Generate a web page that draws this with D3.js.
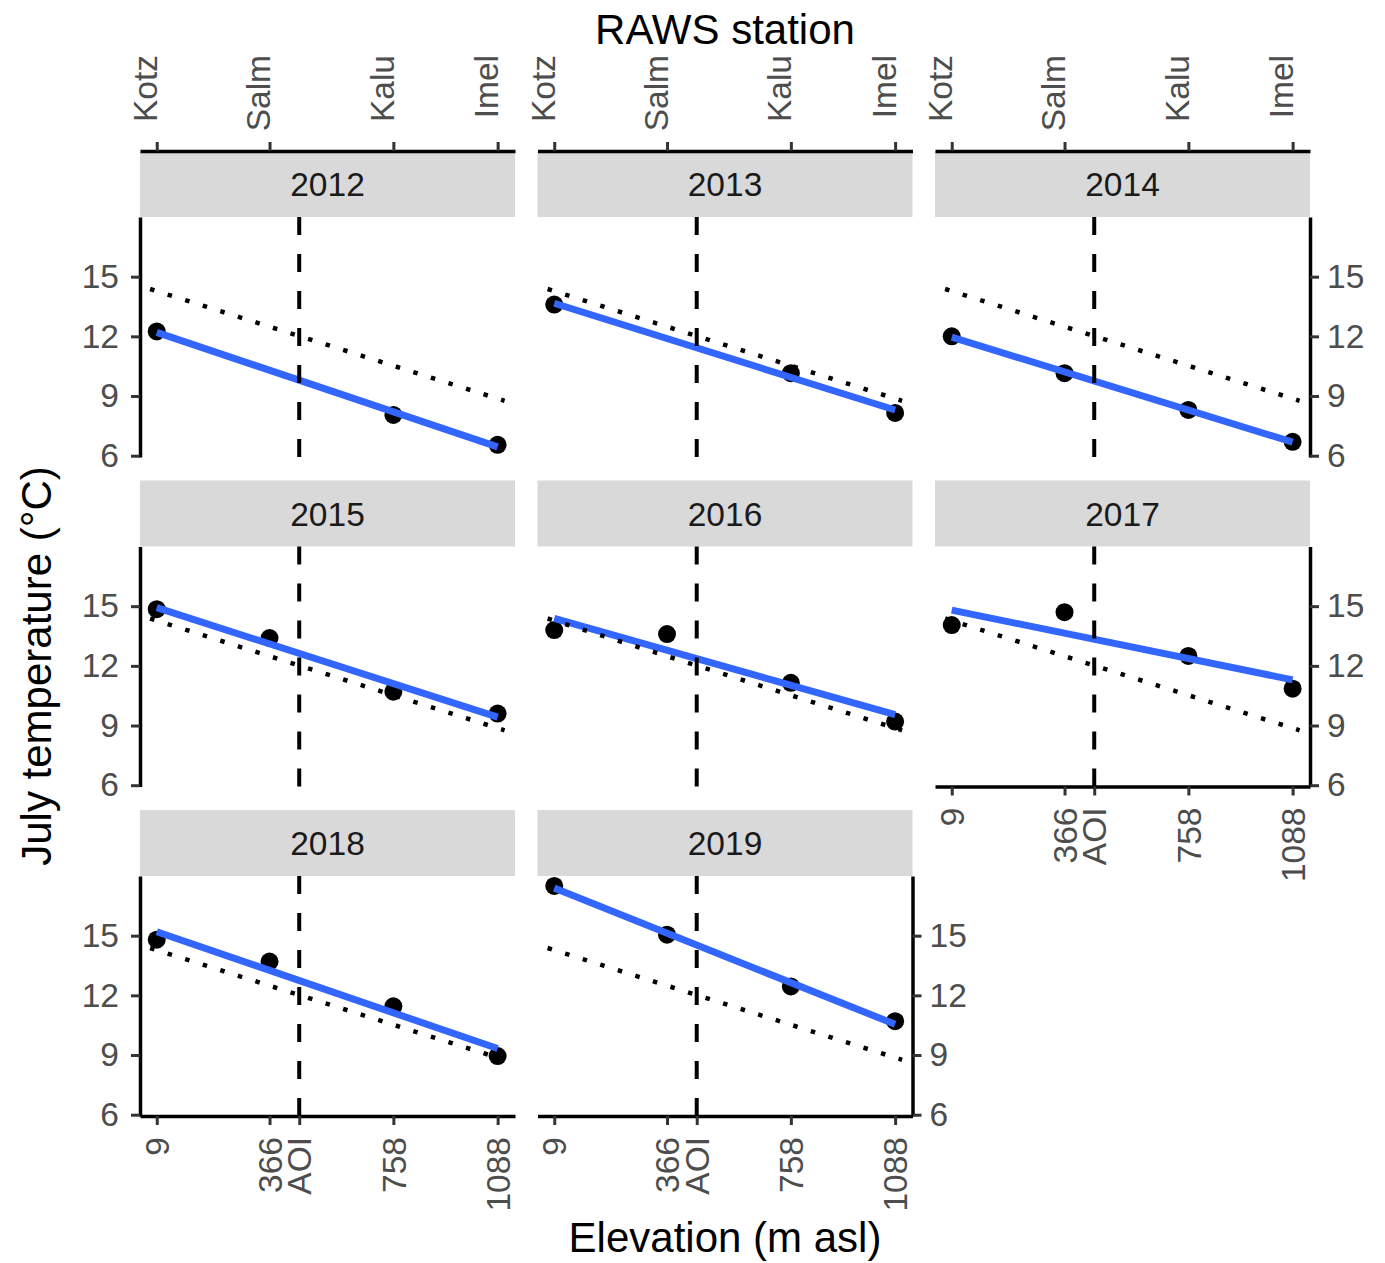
<!DOCTYPE html>
<html>
<head>
<meta charset="utf-8">
<script src="https://cdn.jsdelivr.net/npm/d3@7"></script>
<style>
  body { margin: 0; background: #fff; }
  svg { font-family: "Liberation Sans", Arial, Helvetica, sans-serif; }
</style>
</head>
<body>
<div id="chart"></div>
<script>
// stations along the elevation gradient
var stations = ["Kotz", "Salm", "Kalu", "Imel"];
var elevation = [9, 366, 758, 1088];
var aoiElev = 460;

var years = ["2012", "2013", "2014", "2015", "2016", "2017", "2018", "2019"];

// mean July temperature per station (null = no data)
var temp2012 = [12.25, null, 8.05, 6.55];
var temp2013 = [13.6, null, 10.15, 8.15];
var temp2014 = [12.0, 10.15, 8.3, 6.7];
var temp2015 = [14.85, 13.4, 10.7, 9.6];
var temp2016 = [13.8, 13.6, 11.15, 9.2];
var temp2017 = [14.05, 14.7, 12.5, 10.85];
var temp2018 = [14.8, 13.7, 11.45, 8.95];
var temp2019 = [17.5, 15.05, 12.45, 10.7];
var temps = [temp2012, temp2013, temp2014, temp2015, temp2016, temp2017, temp2018, temp2019];

// reference lapse-rate line (dotted)
var refElev = [-12, 1110];
var refTemp = [14.38, 8.76];

var tempTicks = [6, 9, 12, 15];
var bottomTicks = [9, 366, aoiElev, 758, 1088];
var bottomLabels = ["9", "366", "AOI", "758", "1088"];

var width = 1385, height = 1263;
var panelW = 375, plotH = 240, stripH = 66;
var colX = [140, 537.5, 935];
var rowY = [151, 480.5, 810];

var svg = d3.select("#chart").append("svg")
    .attr("width", width)
    .attr("height", height);

svg.append("rect").attr("width", width).attr("height", height).attr("fill", "#fff");

var x = d3.scaleLinear().domain([-44, 1143]).range([0, panelW]);
var y = d3.scaleLinear().domain([5.935, 18.0]).range([plotH, 0]);

var line = d3.line().x(function(d) { return x(d[0]); }).y(function(d) { return y(d[1]); });

function linfit(xs, ys) {
  var pts = xs.map(function(v, i) { return [v, ys[i]]; }).filter(function(d) { return d[1] != null; });
  var mx = d3.mean(pts, function(d) { return d[0]; }),
      my = d3.mean(pts, function(d) { return d[1]; });
  var sxy = d3.sum(pts, function(d) { return (d[0] - mx) * (d[1] - my); }),
      sxx = d3.sum(pts, function(d) { return (d[0] - mx) * (d[0] - mx); });
  var b = sxy / sxx, a = my - b * mx;
  var lo = d3.min(pts, function(d) { return d[0]; }), hi = d3.max(pts, function(d) { return d[0]; });
  return [[lo, a + b * lo], [hi, a + b * hi]];
}

function styleAxis(g) {
  g.select(".domain").attr("stroke", "#000").attr("stroke-width", 3.5);
  g.selectAll(".tick line").attr("stroke", "#333").attr("stroke-width", 3);
  g.selectAll(".tick text").attr("fill", "#4D4D4D").style("font-size", "33.5px");
}

years.forEach(function(yr, i) {
  var col = i % 3, row = Math.floor(i / 3);
  var g = svg.append("g")
      .attr("transform", "translate(" + colX[col] + "," + rowY[row] + ")");

  // strip
  g.append("rect")
      .attr("width", panelW).attr("height", stripH)
      .attr("fill", "#D9D9D9");
  g.append("text")
      .attr("x", panelW / 2).attr("y", stripH / 2)
      .attr("dy", "0.36em")
      .attr("text-anchor", "middle")
      .attr("fill", "#1A1A1A")
      .style("font-size", "33.5px")
      .text(yr);

  var p = g.append("g").attr("transform", "translate(0," + stripH + ")");
  var data = temps[i];

  // observations
  p.selectAll("circle")
      .data(elevation.map(function(e, k) { return [e, data[k]]; }).filter(function(d) { return d[1] != null; }))
      .join("circle")
      .attr("cx", function(d) { return x(d[0]); })
      .attr("cy", function(d) { return y(d[1]); })
      .attr("r", 9)
      .attr("fill", "#000");

  // linear fit
  p.append("path")
      .attr("d", line(linfit(elevation, data)))
      .attr("fill", "none")
      .attr("stroke", "#3366FF")
      .attr("stroke-width", 7);

  // reference lapse rate
  p.append("path")
      .attr("d", line(refElev.map(function(e, k) { return [e, refTemp[k]]; })))
      .attr("fill", "none")
      .attr("stroke", "#000")
      .attr("stroke-width", 4.5)
      .attr("stroke-dasharray", "4.5,13.9");

  // AOI elevation
  p.append("line")
      .attr("x1", x(aoiElev)).attr("x2", x(aoiElev))
      .attr("y1", 0).attr("y2", plotH)
      .attr("stroke", "#000")
      .attr("stroke-width", 4)
      .attr("stroke-dasharray", "18,19");

  // top axis: station names
  if (row === 0) {
    var top = g.append("g")
        .call(d3.axisTop(x).tickValues(elevation)
          .tickFormat(function(d, k) { return stations[k]; })
          .tickSize(9).tickSizeOuter(0));
    styleAxis(top);
    top.selectAll(".tick text")
        .attr("transform", "rotate(-90)")
        .attr("x", 96).attr("y", 0).attr("dy", "0")
        .attr("text-anchor", "end");
  }

  // left axis
  if (col === 0) {
    var left = p.append("g")
        .call(d3.axisLeft(y).tickValues(tempTicks).tickSize(9).tickPadding(12).tickSizeOuter(0));
    styleAxis(left);
  }

  // right axis on the last panel of each row
  if (col === 2 || i === years.length - 1) {
    var right = p.append("g")
        .attr("transform", "translate(" + panelW + ",0)")
        .call(d3.axisRight(y).tickValues(tempTicks).tickSize(9).tickPadding(8).tickSizeOuter(0));
    styleAxis(right);
  }

  // bottom axis on the lowest panel of each column
  if (row === 2 || i === 5) {
    var bottom = p.append("g")
        .attr("transform", "translate(0," + plotH + ")")
        .call(d3.axisBottom(x).tickValues(bottomTicks)
          .tickFormat(function(d, k) { return bottomLabels[k]; })
          .tickSize(9).tickSizeOuter(0));
    styleAxis(bottom);
    bottom.selectAll(".tick text")
        .attr("transform", "rotate(-90)")
        .attr("x", -21).attr("y", 0).attr("dy", "0.35em")
        .attr("text-anchor", "end");
  }
});

// titles
svg.append("text")
    .attr("x", 725).attr("y", 44)
    .attr("text-anchor", "middle")
    .style("font-size", "42px")
    .text("RAWS station");

svg.append("text")
    .attr("x", 725).attr("y", 1252)
    .attr("text-anchor", "middle")
    .style("font-size", "42px")
    .text("Elevation (m asl)");

svg.append("text")
    .attr("transform", "translate(51,666) rotate(-90)")
    .attr("text-anchor", "middle")
    .style("font-size", "42px")
    .text("July temperature (°C)");
</script>
</body>
</html>
